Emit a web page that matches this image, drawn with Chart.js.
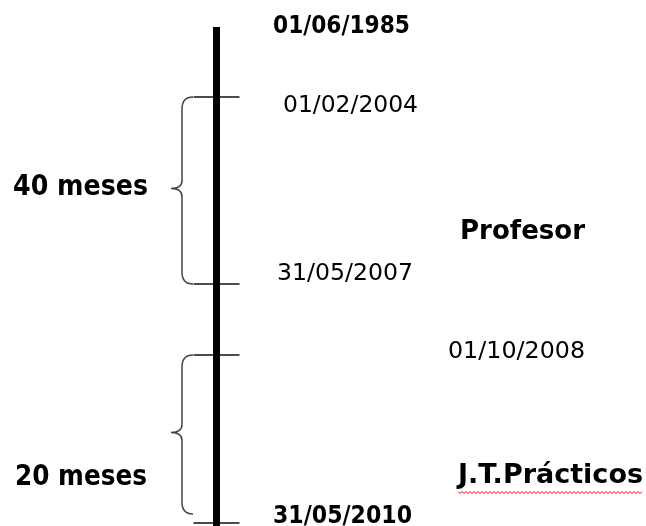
<!DOCTYPE html>
<html>
<head>
<meta charset="utf-8">
<script src="https://cdn.jsdelivr.net/npm/chart.js@4"></script>
<style>
  html, body { margin: 0; padding: 0; background: #fff; }
  #wrap { width: 646px; height: 526px; }
</style>
</head>
<body>
<div id="wrap"><canvas id="timeline" width="646" height="526"></canvas></div>
<script>
// timeline events (top to bottom)
const dates = ['01/06/1985', '01/02/2004', '31/05/2007', '01/10/2008', '31/05/2010'];
const datePos = [27, 97, 284, 355, 523];          // position along the timeline
const dateBold = [true, false, false, false, true];

// periods marked with a brace
const spanLabels = ['40 meses', '20 meses'];
const spanFrom = [97, 355];
const spanTo = [284, 514];

// roles on the right side
const roles = ['Profesor', 'J.T.Prácticos'];

// layout only
const axisX = 216.5;
const dateBox = [[273, 33, 137], [283, 112, 135], [277, 280, 136], [448, 358, 137], [273, 523, 139]];
const spanBox = [[13, 195, 135], [15, 485, 132]];
const roleBox = [[460, 239, 125], [458, 483, 185]];

function fitText(ctx, text, x, y, w, font) {
  ctx.save();
  ctx.font = font;
  const m = ctx.measureText(text).width;
  ctx.translate(x, y);
  ctx.scale(w / m, 1);
  ctx.fillText(text, 0, 0);
  ctx.restore();
}

const decorations = {
  id: 'decorations',
  afterDatasetsDraw(chart) {
    const { ctx, scales: { x, y } } = chart;
    ctx.save();

    // braces
    ctx.strokeStyle = '#444';
    ctx.lineWidth = 1.5;
    spanFrom.forEach((from, i) => {
      const y1 = y.getPixelForValue(from);
      const y2 = y.getPixelForValue(spanTo[i]);
      const mid = (y1 + y2) / 2 - 2;
      const xe = x.getPixelForValue(193), xv = x.getPixelForValue(182), xp = x.getPixelForValue(171);
      ctx.beginPath();
      ctx.moveTo(xe, y1);
      ctx.quadraticCurveTo(xv, y1, xv, y1 + 12);
      ctx.lineTo(xv, mid - 8);
      ctx.quadraticCurveTo(xv, mid, xp, mid);
      ctx.quadraticCurveTo(xv, mid, xv, mid + 8);
      ctx.lineTo(xv, y2 - 12);
      ctx.quadraticCurveTo(xv, y2, xe, y2);
      ctx.stroke();
    });

    // texts
    ctx.fillStyle = '#000';
    ctx.textBaseline = 'alphabetic';
    dates.forEach((d, i) => {
      const [bx, by, bw] = dateBox[i];
      const font = dateBold[i] ? 'bold 25px "DejaVu Sans"' : '23px "DejaVu Sans"';
      fitText(ctx, d, bx, by, bw, font);
    });
    spanLabels.forEach((s, i) => {
      const [bx, by, bw] = spanBox[i];
      fitText(ctx, s, bx, by, bw, 'bold 28px "DejaVu Sans"');
    });
    roles.forEach((r, i) => {
      const [bx, by, bw] = roleBox[i];
      fitText(ctx, r, bx, by, bw, 'bold 27px "DejaVu Sans"');
    });

    // spell-check squiggle under the second role
    const [ux, uy, uw] = roleBox[1];
    ctx.strokeStyle = '#f00';
    ctx.lineWidth = 1;
    ctx.beginPath();
    for (let px = 0; px <= uw; px += 2) {
      const py = uy + 9.5 + ((px / 2) % 2 === 0 ? -1 : 1);
      if (px === 0) ctx.moveTo(ux + px, py); else ctx.lineTo(ux + px, py);
    }
    ctx.stroke();

    ctx.restore();
  }
};

new Chart(document.getElementById('timeline'), {
  type: 'scatter',
  data: {
    datasets: [
      {
        type: 'line',
        data: [{ x: axisX, y: datePos[0] }, { x: axisX, y: 526 }],
        borderColor: '#000',
        borderWidth: 7,
        pointRadius: 0
      },
      {
        data: datePos.slice(1).map(p => ({ x: axisX, y: p })),
        pointStyle: 'line',
        pointRadius: 23,
        borderColor: '#111',
        borderWidth: 1.5
      }
    ]
  },
  options: {
    responsive: false,
    animation: false,
    devicePixelRatio: 1,
    layout: { padding: 0, autoPadding: false },
    plugins: { legend: { display: false }, tooltip: { enabled: false } },
    scales: {
      x: { display: false, min: 0, max: 646 },
      y: { display: false, min: 0, max: 526, reverse: true }
    }
  },
  plugins: [decorations]
});
</script>
</body>
</html>
